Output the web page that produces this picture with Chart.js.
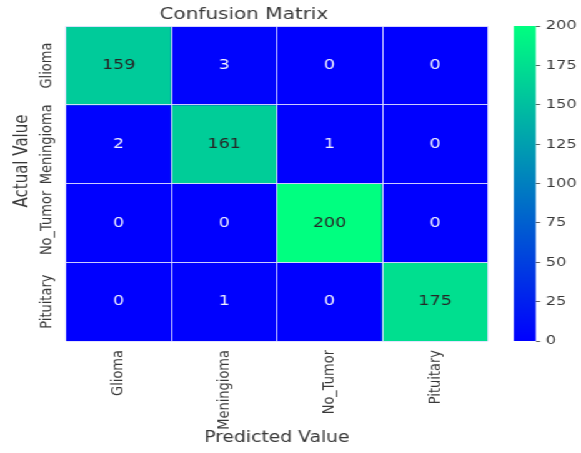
<!DOCTYPE html>
<html>
<head>
<meta charset="utf-8">
<script src="https://cdn.jsdelivr.net/npm/chart.js@4.4.0/dist/chart.umd.min.js"></script>
<style>
  html, body { margin: 0; padding: 0; background: #fff; overflow: hidden; }
  /* the figure is laid out narrow and widened as a whole */
  #wrap { position: relative; width: 465px; height: 453px; transform: scaleX(1.2495); transform-origin: 0 0; }
  #heat { position: absolute; left: 0; top: 0; }
  #cbar { position: absolute; left: 400px; top: 0; }
</style>
</head>
<body>
<div id="wrap">
  <canvas id="heat" width="400" height="453"></canvas>
  <canvas id="cbar" width="65" height="453"></canvas>
</div>
<script>
'use strict';
const classes = ['Glioma', 'Meningioma', 'No_Tumor', 'Pituitary'];
// rows = actual class, columns = predicted class
const gliomaRow = [159, 3, 0, 0];
const meningiomaRow = [2, 161, 1, 0];
const noTumorRow = [0, 0, 200, 0];
const pituitaryRow = [0, 1, 0, 175];
const colorbarTicks = [0, 25, 50, 75, 100, 125, 150, 175, 200];
const vmin = 0;
const vmax = 200;

const rows = [gliomaRow, meningiomaRow, noTumorRow, pituitaryRow];
const FONT = "'DejaVu Sans', sans-serif";
const TEXT = '#383838';
const LINE = 'rgba(225, 225, 255, 0.9)';

// matplotlib "winter": blue -> spring green
const winter = function (v) {
  const t = Math.min(1, Math.max(0, (v - vmin) / (vmax - vmin)));
  return [0, Math.round(255 * t), Math.round(255 * (1 - 0.5 * t))];
};
const rgb = c => `rgb(${c[0]}, ${c[1]}, ${c[2]})`;
const luminance = function (c) {
  const lin = c.map(x => {
    x /= 255;
    return x <= 0.03928 ? x / 12.92 : Math.pow((x + 0.055) / 1.055, 2.4);
  });
  return 0.2126 * lin[0] + 0.7152 * lin[1] + 0.0722 * lin[2];
};

// one floating bar per cell, spanning [row, row + 1] on the y scale
const datasets = rows.map((row, r) => ({
  label: classes[r],
  data: row.map(() => [r, r + 1]),
  counts: row,
  backgroundColor: row.map(v => rgb(winter(v))),
  borderWidth: 0,
  grouped: false,
  categoryPercentage: 1,
  barPercentage: 1,
}));

// count written in the middle of each cell
const cellText = {
  id: 'cellText',
  afterDatasetsDraw(chart) {
    const ctx = chart.ctx;
    ctx.save();
    ctx.font = `14px ${FONT}`;
    ctx.textAlign = 'center';
    ctx.textBaseline = 'middle';
    chart.data.datasets.forEach((ds, i) => {
      chart.getDatasetMeta(i).data.forEach((bar, j) => {
        const v = ds.counts[j];
        ctx.fillStyle = luminance(winter(v)) > 0.408 ? '#262626' : '#f4f4ff';
        ctx.fillText(String(v), bar.x, (bar.y + bar.base) / 2);
      });
    });
    ctx.restore();
  },
};

// rotated row names and y title
const rowLabels = {
  id: 'rowLabels',
  afterDraw(chart) {
    const ctx = chart.ctx;
    const y = chart.scales.y;
    ctx.save();
    ctx.fillStyle = TEXT;
    ctx.textAlign = 'center';
    ctx.textBaseline = 'middle';
    ctx.font = `13px ${FONT}`;
    classes.forEach((name, i) => {
      ctx.save();
      ctx.translate(37.6, y.getPixelForValue(i + 0.5));
      ctx.rotate(-Math.PI / 2);
      ctx.fillText(name, 0, 0);
      ctx.restore();
    });
    ctx.font = `15px ${FONT}`;
    ctx.translate(18.5, 161);
    ctx.rotate(-Math.PI / 2);
    ctx.fillText('Actual Value', 0, 0);
    ctx.restore();
  },
};

new Chart(document.getElementById('heat'), {
  type: 'bar',
  data: { labels: classes, datasets: datasets },
  options: {
    responsive: false,
    animation: false,
    layout: { padding: { left: 0, right: 9.6, top: 0, bottom: 0 } },
    plugins: {
      legend: { display: false },
      tooltip: { enabled: false },
      title: {
        display: true,
        text: 'Confusion Matrix',
        color: TEXT,
        font: { family: FONT, size: 16, weight: 'normal' },
        padding: { top: 5, bottom: 2 },
      },
    },
    scales: {
      x: {
        offset: true,
        grid: { z: 1, offset: true, color: LINE, lineWidth: 1, drawTicks: false },
        border: { display: false },
        ticks: { color: TEXT, font: { family: FONT, size: 13 }, minRotation: 90, maxRotation: 90, padding: 9 },
        title: {
          display: true,
          text: 'Predicted Value',
          color: TEXT,
          font: { family: FONT, size: 15 },
          padding: { top: 0, bottom: 6 },
        },
        afterFit: s => { s.height = 112; },
      },
      y: {
        min: 0,
        max: 4,
        reverse: true,
        grid: { z: 1, color: LINE, lineWidth: 1, drawTicks: false },
        border: { display: false },
        ticks: { display: false, stepSize: 1 },
        afterFit: s => { s.width = 52.8; },
      },
    },
  },
  plugins: [cellText, rowLabels],
});

// colour bar: a single bar from vmin to vmax filled with the colormap
new Chart(document.getElementById('cbar'), {
  type: 'bar',
  data: {
    labels: [''],
    datasets: [{
      data: [[vmin, vmax]],
      backgroundColor: function (c) {
        const area = c.chart.chartArea;
        if (!area) return rgb(winter(vmax));
        const g = c.chart.ctx.createLinearGradient(0, area.bottom, 0, area.top);
        g.addColorStop(0, rgb(winter(vmin)));
        g.addColorStop(1, rgb(winter(vmax)));
        return g;
      },
      borderWidth: 0,
      categoryPercentage: 1,
      barPercentage: 1,
    }],
  },
  options: {
    responsive: false,
    animation: false,
    layout: { padding: { left: 11.2, right: 0, top: 26, bottom: 112 } },
    plugins: { legend: { display: false }, tooltip: { enabled: false } },
    scales: {
      x: { display: false },
      y: {
        position: 'right',
        min: vmin,
        max: vmax,
        afterBuildTicks: s => { s.ticks = colorbarTicks.map(v => ({ value: v })); },
        grid: { drawOnChartArea: false, tickLength: 3.5, color: TEXT, lineWidth: 0.8 },
        border: { display: false },
        ticks: { color: TEXT, font: { family: FONT, size: 13 }, padding: 4.5 },
        afterFit: s => { s.width = 36.2; },
      },
    },
  },
});
</script>
</body>
</html>
